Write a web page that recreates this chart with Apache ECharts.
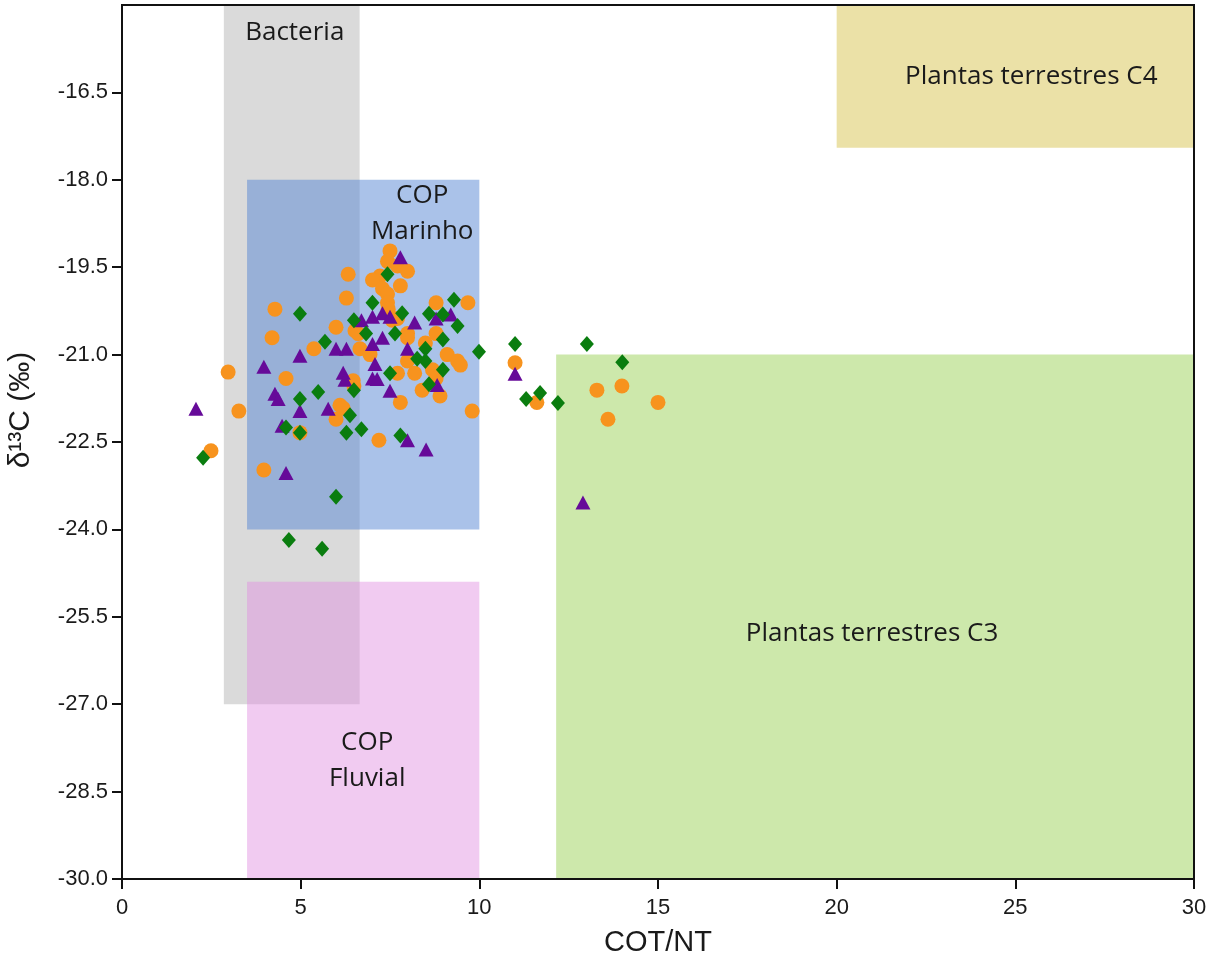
<!DOCTYPE html>
<html>
<head>
<meta charset="utf-8">
<script src="https://cdn.jsdelivr.net/npm/echarts@6/dist/echarts.min.js"></script>
<style>
html,body{margin:0;padding:0;background:#fff;}
#chart{width:1222px;height:957px;}
</style>
</head>
<body>
<div id="chart"></div>
<script>
// ---- Data ----
const xTitle = 'COT/NT';
const yTitle = 'δ¹³C (‰)';

// Orange circles [COT/NT, δ13C]
const orangePoints = [
  [4.28,-20.22],[4.20,-20.71],[5.99,-20.53],[6.28,-20.03],[6.33,-19.62],[5.37,-20.90],
  [2.97,-21.30],[4.59,-21.41],[6.10,-21.87],[6.19,-21.92],[5.99,-22.11],[4.98,-22.34],
  [3.27,-21.97],[2.49,-22.65],[3.97,-22.98],[7.50,-19.22],[7.43,-19.40],[7.71,-19.48],
  [7.99,-19.57],[7.22,-19.65],[7.01,-19.72],[7.79,-19.82],[7.29,-19.87],[7.43,-19.96],
  [7.43,-20.11],[7.45,-20.22],[8.79,-20.11],[9.68,-20.11],[7.56,-20.41],[7.71,-20.38],
  [6.52,-20.59],[6.61,-20.64],[7.99,-20.64],[7.99,-20.71],[8.79,-20.64],[8.49,-20.80],
  [9.10,-21.00],[9.39,-21.11],[9.47,-21.18],[6.66,-20.90],[6.94,-21.00],[7.99,-21.11],
  [7.71,-21.32],[8.19,-21.32],[8.69,-21.26],[8.79,-21.41],[6.47,-21.45],[6.49,-21.54],
  [8.40,-21.61],[8.90,-21.71],[7.79,-21.82],[9.80,-21.97],[7.19,-22.47],
  [11.00,-21.14],[11.61,-21.82],[13.29,-21.61],[13.99,-21.54],[15.00,-21.82],[13.60,-22.11]
];

// Green diamonds
const greenPoints = [
  [4.98,-20.30],[5.68,-20.78],[4.98,-21.76],[5.49,-21.64],[4.59,-22.25],[4.98,-22.34],
  [6.28,-22.34],[2.27,-22.77],[5.99,-23.44],[4.67,-24.18],[5.60,-24.33],[7.43,-19.62],
  [7.01,-20.11],[9.29,-20.06],[7.84,-20.29],[6.49,-20.41],[8.59,-20.30],[8.98,-20.31],
  [9.39,-20.51],[6.83,-20.64],[7.64,-20.64],[8.98,-20.74],[8.49,-20.90],[9.99,-20.95],
  [8.26,-21.07],[8.49,-21.11],[8.98,-21.26],[7.50,-21.32],[8.59,-21.51],[6.49,-21.61],
  [6.38,-22.04],[6.70,-22.28],[7.79,-22.39],
  [11.00,-20.82],[13.01,-20.82],[14.00,-21.13],[11.70,-21.66],[11.31,-21.76],[12.20,-21.83]
];

// Purple triangles
const purplePoints = [
  [4.98,-21.02],[5.99,-20.90],[6.28,-20.90],[3.97,-21.21],[4.28,-21.67],[4.37,-21.76],
  [4.98,-21.97],[5.77,-21.93],[4.48,-22.22],[2.07,-21.93],[4.59,-23.03],[7.79,-19.33],
  [7.01,-20.35],[7.29,-20.29],[7.50,-20.35],[6.70,-20.41],[8.19,-20.45],[8.79,-20.38],
  [9.20,-20.31],[7.29,-20.71],[7.01,-20.82],[7.99,-20.90],[7.08,-21.16],[7.01,-21.41],
  [7.14,-21.42],[6.19,-21.31],[6.24,-21.43],[7.50,-21.62],[8.82,-21.52],[7.99,-22.47],
  [8.51,-22.63],[11.00,-21.33],[12.90,-23.54]
];

// Source regions: [xFrom, xTo], [yFrom, yTo]
const regionNames = ['Bacteria', 'COP\nMarinho', 'COP\nFluvial', 'Plantas terrestres C3', 'Plantas terrestres C4'];
const regionX = [[2.85, 6.65], [3.5, 10], [3.5, 10], [12.15, 30], [20, 30]];
const regionY = [[-27, -15], [-24, -18], [-30, -24.9], [-30, -21], [-17.45, -15]];

// Axis ticks
const xMin = 0, xMax = 30, xStep = 5;
const yMin = -30, yMax = -15, yStep = 1.5;

// ---- Styles ----
const regionColors = ['#dadada', 'rgba(86,134,212,0.5)', 'rgba(225,140,225,0.45)', '#cde8ab', '#ebe1a7'];
const regionLabelPos = [
  {position: 'insideTop', distance: 10, offset: [3, 0]},
  {position: 'insideTop', distance: 0, offset: [59, -2]},
  {position: 'inside', offset: [4, 30]},
  {position: 'inside', offset: [-3, 17]},
  {position: 'inside', offset: [16, 0]}
];

const chart = echarts.init(document.getElementById('chart'), null, {renderer: 'canvas'});

function regionSeries(i) {
  return {
    type: 'scatter',
    data: [],
    silent: true,
    z: 1,
    markArea: {
      silent: true,
      itemStyle: {color: regionColors[i], borderWidth: 0},
      label: Object.assign({
        show: true,
        color: '#1a1a1a',
        fontFamily: 'Open Sans',
        fontSize: 26,
        lineHeight: 36,
        align: 'center'
      }, regionLabelPos[i]),
      data: [[
        {name: regionNames[i], coord: [regionX[i][0], regionY[i][1]]},
        {coord: [regionX[i][1], regionY[i][0]]}
      ]]
    }
  };
}

const option = {
  animation: false,
  backgroundColor: '#fff',
  grid: {
    left: 122, top: 5, right: 28, bottom: 78,
    containLabel: false,
    outerBoundsMode: 'none',
    show: true, borderColor: '#111', borderWidth: 2, backgroundColor: 'transparent',
    z: 10
  },
  xAxis: {
    type: 'value',
    min: xMin, max: xMax, interval: xStep,
    name: xTitle,
    nameLocation: 'middle',
    nameGap: 49,
    nameTextStyle: {fontFamily: 'Liberation Sans', fontSize: 29, color: '#1a1a1a'},
    axisLine: {show: true, lineStyle: {color: '#111', width: 2}},
    axisTick: {show: true, inside: false, length: 10, lineStyle: {color: '#111', width: 2}},
    axisLabel: {fontFamily: 'Liberation Sans', fontSize: 22, color: '#1a1a1a', margin: 18},
    splitLine: {show: false},
    z: 10
  },
  yAxis: {
    type: 'value',
    min: yMin, max: yMax, interval: yStep,
    name: yTitle,
    nameLocation: 'middle',
    nameGap: 86,
    nameRotate: 90,
    nameTextStyle: {
      fontFamily: 'Liberation Sans', fontSize: 30, color: '#1a1a1a',
      padding: [0, 0, 0, 64]
    },
    axisLine: {show: true, lineStyle: {color: '#111', width: 2}},
    axisTick: {show: true, inside: false, length: 10, lineStyle: {color: '#111', width: 2}},
    axisLabel: {
      fontFamily: 'Liberation Sans', fontSize: 22, color: '#1a1a1a', margin: 14,
      showMaxLabel: false,
      formatter: v => v.toFixed(1)
    },
    splitLine: {show: false},
    z: 10
  },
  series: [
    regionSeries(0), regionSeries(1), regionSeries(2), regionSeries(3), regionSeries(4),
    {
      type: 'scatter', data: orangePoints, symbol: 'circle', symbolSize: 15,
      itemStyle: {color: '#f7931e', opacity: 1}, z: 3
    },
    {
      type: 'scatter', data: purplePoints, symbol: 'triangle', symbolSize: [15, 14],
      itemStyle: {color: '#660a99', opacity: 1}, z: 4
    },
    {
      type: 'scatter', data: greenPoints, symbol: 'diamond', symbolSize: [14, 16],
      itemStyle: {color: '#0a7d0f', opacity: 1}, z: 5
    }
  ]
};

chart.setOption(option);
</script>
</body>
</html>
